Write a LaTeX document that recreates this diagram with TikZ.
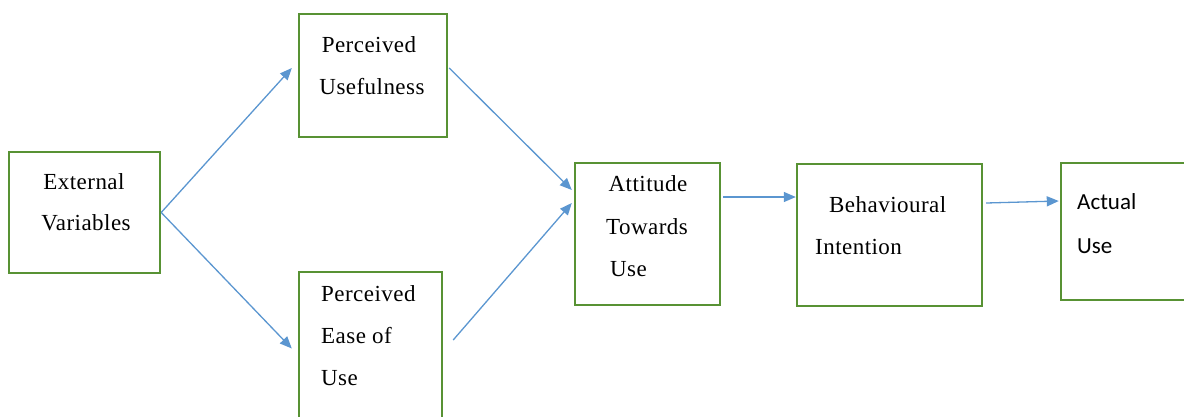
\documentclass[tikz,border=0pt]{standalone}
\usepackage{fontspec}
\setmainfont{Liberation Serif}[LetterSpace=2]
\newfontfamily\sansf{Carlito}
\usetikzlibrary{arrows.meta,calc}
\definecolor{boxgreen}{RGB}{88,146,52}
\definecolor{arrblue}{RGB}{91,150,208}
\tikzset{
  box/.style={draw=boxgreen, line width=2.4pt, rectangle, inner sep=0pt},
  lbl/.style={inner sep=0pt, font=\fontsize{23}{25}\selectfont, text=black},
  lbls/.style={inner sep=0pt, font=\sansf\fontsize{23}{26}\selectfont, text=black},
  arr/.style={draw=arrblue, line width=1.3pt, -{Triangle[length=12pt,width=10pt]}}
}
\begin{document}
\begin{tikzpicture}[x=1pt,y=-1pt]
\useasboundingbox (0,0) rectangle (1184,416);
\clip (0,0) rectangle (1184,416);
% boxes
\node[box, minimum width=151pt, minimum height=121pt] (ext)  at (84.5,212.5) {};
\node[box, minimum width=148pt, minimum height=123pt] (pu)   at (373,75.5) {};
\node[box, minimum width=143pt, minimum height=153pt] (peou) at (370.5,348.5) {};
\node[box, minimum width=145pt, minimum height=142pt] (att)  at (647.5,234) {};
\node[box, minimum width=185pt, minimum height=142pt] (bi)   at (889.5,235) {};
\node[box, minimum width=134pt, minimum height=137pt] (au)   at (1128,231.5) {};
% labels
\node[lbl] (t1) at (84,182) {External};
\node[lbl] (t2) at (86,223) {Variables};
\node[lbl] (t3) at (369,45) {Perceived};
\node[lbl] (t4) at (372,87) {Usefulness};
\node[lbl, anchor=west] (t5) at (321,294) {Perceived};
\node[lbl, anchor=west] (t6) at (321,336) {Ease of};
\node[lbl, anchor=west] (t7) at (321,378) {Use};
\node[lbl] (t8) at (648,184) {Attitude};
\node[lbl] (t9) at (647,227) {Towards};
\node[lbl, anchor=west] (t10) at (610,269) {Use};
\node[lbl, anchor=west] (t11) at (829,205) {Behavioural};
\node[lbl, anchor=west] (t12) at (815,247) {Intention};
\node[lbls, anchor=west] (t13) at (1077,202) {Actual};
\node[lbls, anchor=west] (t14) at (1077,246) {Use};
% arrows
\draw[arr] (ext.east) -- ([xshift=-6pt,yshift=7.5pt]pu.west);
\draw[arr] (ext.east) -- ([xshift=-6pt]peou.west);
\draw[arr] ([xshift=1pt,yshift=7.5pt]pu.east) -- ([xshift=-2pt,yshift=44pt]att.west);
\draw[arr] ([xshift=10pt,yshift=8.5pt]peou.east) -- ([xshift=-2pt,yshift=31pt]att.west);
\draw[arr] ([xshift=2pt,yshift=37pt]att.east) -- ([yshift=37pt]att.east -| bi.west);
\draw[arr] ([xshift=3pt,yshift=32pt]bi.east) -- ([xshift=-1pt,yshift=30.5pt]au.west);
\end{tikzpicture}
\end{document}
